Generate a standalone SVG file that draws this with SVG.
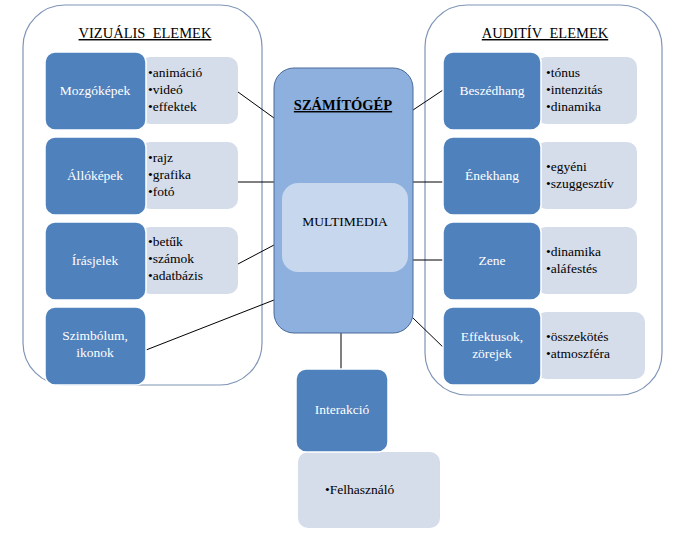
<svg xmlns="http://www.w3.org/2000/svg" width="686" height="536" viewBox="0 0 686 536" font-family="'Liberation Serif', 'Times New Roman', 'DejaVu Serif', serif">
<style>
text{font-family:'Liberation Serif','Times New Roman','DejaVu Serif',serif;font-size:13.5px}
.cont{fill:#fff;stroke:#7f95b6;stroke-width:1.2}
.dark{fill:#4f81bd;stroke:#fff;stroke-width:1.5}
.lite{fill:#d5dcea}
.w{fill:#fff}
.title{font-size:14.5px;text-decoration:underline}
.c line{stroke:#000;stroke-width:1}
</style>
<rect width="686" height="536" fill="#fff"/>
<rect class="cont" x="23" y="5" width="239" height="380" rx="42"/>
<rect class="cont" x="425" y="5" width="237" height="390" rx="42"/>
<text class="title" x="145" y="38" text-anchor="middle">VIZUÁLIS&#160; ELEMEK</text>
<text class="title" x="545" y="38" text-anchor="middle">AUDITÍV&#160; ELEMEK</text>
<g class="c">
<line x1="238" y1="92" x2="274" y2="118"/>
<line x1="238" y1="182" x2="274" y2="182"/>
<line x1="238" y1="264" x2="274" y2="245"/>
<line x1="146" y1="350" x2="274" y2="300"/>
<line x1="413" y1="110" x2="446" y2="88"/>
<line x1="413" y1="182" x2="446" y2="182"/>
<line x1="413" y1="260" x2="446" y2="260"/>
<line x1="413" y1="318" x2="446" y2="350"/>
<line x1="341" y1="333" x2="341" y2="370"/>
</g>
<g id="center">
<rect x="274" y="68" width="139" height="265" rx="20" fill="#8eb0de" stroke="#4a6a9a" stroke-width="1"/>
<text x="343" y="110" text-anchor="middle" font-weight="bold" style="font-size:14.5px" text-decoration="underline">SZÁMÍTÓGÉP</text>
<rect x="282" y="183" width="126" height="89" rx="16" fill="#c6d7ee"/>
<text x="345" y="226" text-anchor="middle">MULTIMEDIA</text>
</g>
<g id="mozgo"><rect class="lite" x="140" y="57" width="98" height="67" rx="10"/><rect class="dark" x="45" y="52" width="101" height="78" rx="10"/>
<text class="w" x="95" y="95" text-anchor="middle">Mozgóképek</text>
<text x="148" y="77">•animáció</text><text x="148" y="94">•videó</text><text x="148" y="111">•effektek</text></g>
<g id="allo"><rect class="lite" x="140" y="142" width="98" height="67" rx="10"/><rect class="dark" x="45" y="137" width="101" height="78" rx="10"/>
<text class="w" x="95" y="180" text-anchor="middle">Állóképek</text>
<text x="148" y="162">•rajz</text><text x="148" y="179">•grafika</text><text x="148" y="196">•fotó</text></g>
<g id="iras"><rect class="lite" x="140" y="227" width="98" height="67" rx="10"/><rect class="dark" x="45" y="222" width="101" height="78" rx="10"/>
<text class="w" x="95" y="265" text-anchor="middle">Írásjelek</text>
<text x="148" y="246">•betűk</text><text x="148" y="263">•számok</text><text x="148" y="280">•adatbázis</text></g>
<g id="szimb"><rect class="dark" x="45" y="307" width="101" height="78" rx="10"/>
<text class="w" x="95" y="340" text-anchor="middle">Szimbólum,</text><text class="w" x="95" y="357" text-anchor="middle">ikonok</text></g>
<g id="beszed"><rect class="lite" x="536" y="57" width="101" height="67" rx="10"/><rect class="dark" x="443" y="52" width="98" height="78" rx="10"/>
<text class="w" x="492" y="95" text-anchor="middle">Beszédhang</text>
<text x="546" y="77">•tónus</text><text x="546" y="94">•intenzitás</text><text x="546" y="111">•dinamika</text></g>
<g id="enek"><rect class="lite" x="536" y="142" width="101" height="67" rx="10"/><rect class="dark" x="443" y="137" width="98" height="78" rx="10"/>
<text class="w" x="492" y="180" text-anchor="middle">Énekhang</text>
<text x="546" y="171">•egyéni</text><text x="546" y="188">•szuggesztív</text></g>
<g id="zene"><rect class="lite" x="536" y="227" width="101" height="67" rx="10"/><rect class="dark" x="443" y="222" width="98" height="78" rx="10"/>
<text class="w" x="492" y="265" text-anchor="middle">Zene</text>
<text x="546" y="256">•dinamika</text><text x="546" y="273">•aláfestés</text></g>
<g id="effekt"><rect class="lite" x="536" y="312" width="109" height="67" rx="10"/><rect class="dark" x="443" y="307" width="98" height="78" rx="10"/>
<text class="w" x="492" y="341" text-anchor="middle">Effektusok,</text><text class="w" x="492" y="358" text-anchor="middle">zörejek</text>
<text x="546" y="341">•összekötés</text><text x="546" y="358">•atmoszféra</text></g>
<g id="interakcio"><rect class="lite" x="298" y="452" width="142" height="76" rx="10"/><rect class="dark" x="296" y="369" width="92" height="83" rx="10"/>
<text class="w" x="342" y="414" text-anchor="middle">Interakció</text>
<text x="325" y="494">•Felhasználó</text></g>
</svg>
